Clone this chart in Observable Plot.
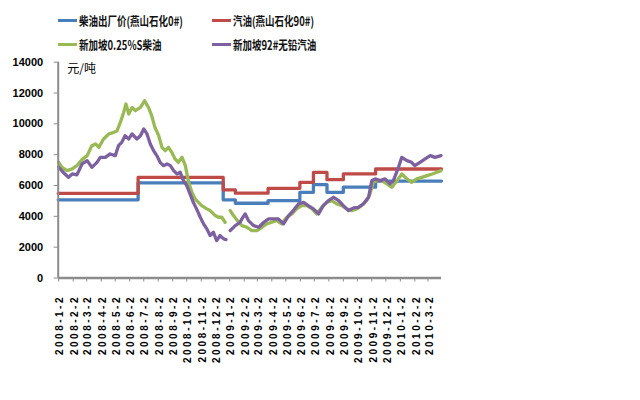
<!DOCTYPE html>
<html>
<head>
<meta charset="utf-8">
<script src="https://cdn.jsdelivr.net/npm/d3@7"></script>
<script src="https://cdn.jsdelivr.net/npm/@observablehq/plot@0.6"></script>
<style>
  body { margin: 0; background: #fff; }
  #legend { position: relative; width: 640px; height: 55px; font-family: "Noto Sans CJK SC", sans-serif; }
  .sw { position: absolute; width: 19px; height: 3px; }
  .lt { position: absolute; font-size: 12.5px; line-height: 13px; font-weight: bold; white-space: nowrap; transform: scaleX(0.76); transform-origin: 0 50%; color: #111; }
  #chart g[aria-label="x-axis tick label"] text { letter-spacing: 2.5px; }
  #chart g[aria-label="y-axis tick"], #chart g[aria-label="x-axis tick"] { stroke: #8c8c8c; }
</style>
</head>
<body>
<div id="legend"></div>
<div id="chart"></div>
<script>
// ---- series names & colours ----
const seriesNames = ["柴油出厂价(燕山石化0#)", "汽油(燕山石化90#)", "新加坡0.25%S柴油", "新加坡92#无铅汽油"];
const seriesColors = ["#4a7ebb", "#be4b48", "#98b954", "#7d60a0"];

// ---- axis ticks ----
const xTickLabels = ["2008-1-2","2008-2-2","2008-3-2","2008-4-2","2008-5-2","2008-6-2","2008-7-2","2008-8-2","2008-9-2","2008-10-2","2008-11-2","2008-12-2",
  "2009-1-2","2009-2-2","2009-3-2","2009-4-2","2009-5-2","2009-6-2","2009-7-2","2009-8-2","2009-9-2","2009-10-2","2009-11-2","2009-12-2",
  "2010-1-2","2010-2-2","2010-3-2"];
const yTicks = [0, 2000, 4000, 6000, 8000, 10000, 12000, 14000];
const xDomain = ["2008-01-01", "2010-03-31"];

// ---- 柴油出厂价 (step) ----
const dieselDates  = ["2008-01-01","2008-06-20","2008-12-19","2009-01-14","2009-03-25","2009-06-01","2009-06-30","2009-07-29","2009-09-02","2009-11-10","2010-03-31"];
const dieselValues = [5070, 6170, 5070, 4850, 5020, 5560, 6060, 5560, 5890, 6290, 6290];

// ---- 汽油出厂价 (step) ----
const gasDates  = ["2008-01-01","2008-06-20","2008-12-19","2009-01-14","2009-03-25","2009-06-01","2009-06-30","2009-07-29","2009-09-02","2009-11-10","2010-03-31"];
const gasValues = [5490, 6530, 5720, 5500, 5820, 6210, 6850, 6380, 6750, 7070, 7070];

// ---- 新加坡0.25%S柴油 ----
const sgDieselDates = ["2008-01-02","2008-01-09","2008-01-20","2008-01-31","2008-02-10","2008-02-21","2008-03-03","2008-03-13","2008-03-21","2008-03-28",
  "2008-04-07","2008-04-18","2008-04-29","2008-05-06","2008-05-13","2008-05-20","2008-05-25","2008-05-31","2008-06-07","2008-06-14",
  "2008-06-25","2008-07-04","2008-07-12","2008-07-19","2008-07-26","2008-08-03","2008-08-10","2008-08-17","2008-08-24","2008-08-31",
  "2008-09-07","2008-09-14","2008-09-22","2008-09-29","2008-10-06","2008-10-13","2008-10-20","2008-10-27","2008-11-03","2008-11-14",
  "2008-11-21","2008-12-02","2008-12-09","2008-12-16","2008-12-23","2008-12-28","2009-01-03","2009-01-10","2009-01-21","2009-01-28",
  "2009-02-08","2009-02-18","2009-03-01","2009-03-12","2009-03-22","2009-04-02","2009-04-13","2009-04-23","2009-05-04","2009-05-15",
  "2009-05-25","2009-06-05","2009-06-16","2009-06-27","2009-07-07","2009-07-18","2009-07-29","2009-08-08","2009-08-19","2009-08-30",
  "2009-09-09","2009-09-20","2009-10-01","2009-10-11","2009-10-22","2009-10-29","2009-11-05","2009-11-12","2009-11-23","2009-12-04",
  "2009-12-15","2009-12-26","2010-01-05","2010-01-16","2010-01-26","2010-02-06","2010-02-17","2010-02-28","2010-03-11","2010-03-21","2010-03-30"];
const sgDieselValues = [7505,7180,6966,7076,7290,7679,7938,8586,8696,8476,
  9020,9344,9448,9558,10096,10744,11288,10640,11068,10854,
  11068,11502,11068,10530,9772,9234,8476,8262,8476,8152,
  7724,7505,7828,7290,6208,5560,5132,4912,4698,4484,
  4374,4050,3940,3940,3616,null,4374,4050,3616,3402,
  3292,3078,3078,3292,3512,3616,3726,3512,3940,4160,
  4484,4698,4698,4484,4160,4588,4912,5022,4808,4698,
  4484,4374,4484,4698,5022,5456,6208,6318,6318,6104,
  5884,6318,6750,6428,6208,6428,6532,6642,6750,6858,6966];

// ---- 新加坡92#无铅汽油 ----
const sgGasDates = ["2008-01-02","2008-01-13","2008-01-23","2008-01-31","2008-02-10","2008-02-21","2008-03-03","2008-03-13","2008-03-24","2008-03-31",
  "2008-04-11","2008-04-21","2008-05-02","2008-05-09","2008-05-16","2008-05-23","2008-05-31","2008-06-07","2008-06-17","2008-06-25",
  "2008-07-02","2008-07-09","2008-07-16","2008-07-23","2008-07-30","2008-08-06","2008-08-13","2008-08-21","2008-08-28","2008-09-04",
  "2008-09-11","2008-09-18","2008-09-25","2008-10-02","2008-10-09","2008-10-16","2008-10-23","2008-10-31","2008-11-07","2008-11-14",
  "2008-11-21","2008-11-28","2008-12-05","2008-12-12","2008-12-20","2008-12-25","2008-12-29","2009-01-03","2009-01-14","2009-01-24",
  "2009-01-28","2009-02-04","2009-02-11","2009-02-22","2009-03-05","2009-03-16","2009-03-26","2009-04-06","2009-04-16","2009-04-27",
  "2009-05-08","2009-05-18","2009-05-29","2009-06-09","2009-06-19","2009-06-30","2009-07-11","2009-07-21","2009-08-01","2009-08-12",
  "2009-08-23","2009-09-02","2009-09-13","2009-09-24","2009-10-04","2009-10-15","2009-10-26","2009-11-02","2009-11-09","2009-11-20",
  "2009-11-30","2009-12-11","2009-12-18","2009-12-29","2010-01-05","2010-01-16","2010-01-26","2010-02-02","2010-02-13","2010-02-24",
  "2010-03-07","2010-03-17","2010-03-30"];
const sgGasValues = [7180,6815,6532,6750,6687,7400,7614,7180,7505,7828,
  7828,8048,7938,8586,8800,9234,9020,9344,9020,9234,
  9668,9344,8696,8262,7938,7505,7290,7400,7290,6966,
  6750,6858,6318,5994,5456,4912,4484,3940,3512,3188,
  2754,2968,2430,2754,2538,2495,null,3078,3402,3616,
  3836,4160,3726,3402,3292,3616,3836,3836,3836,3512,
  4050,4374,4808,4912,4698,4484,4160,4698,5022,5236,
  5022,4698,4374,4549,4588,4808,5236,6318,6428,6318,
  6428,6104,6318,7180,7828,7614,7505,7290,7505,7724,
  7938,7828,7938];

const parse = d3.utcParse("%Y-%m-%d");
const build = (dates, values) => dates.map((d, i) => ({date: parse(d), value: values[i]}));
const diesel = build(dieselDates, dieselValues);
const gas = build(gasDates, gasValues);
const sgDiesel = build(sgDieselDates, sgDieselValues);
const sgGas = build(sgGasDates, sgGasValues);
const xTicks = xTickLabels.map(parse);
const fmt = d3.utcFormat("%Y-%-m-%-d");

// ---- legend (HTML) ----
const legend = document.getElementById("legend");
const legendPos = [[58, 20], [212, 20], [58, 44], [212, 44]];
seriesNames.forEach((name, i) => {
  const [lx, ly] = legendPos[i];
  const sw = document.createElement("div");
  sw.className = "sw";
  sw.style.left = lx + "px"; sw.style.top = (ly - 1.5) + "px"; sw.style.background = seriesColors[i];
  legend.appendChild(sw);
  const t = document.createElement("div");
  t.className = "lt";
  t.style.left = (lx + 21) + "px"; t.style.top = (ly - 6.5) + "px";
  t.textContent = name;
  legend.appendChild(t);
});

const axisGray = "#8c8c8c";
const chart = Plot.plot({
  width: 640,
  height: 345,
  marginLeft: 57.7,
  marginRight: 199,
  marginTop: 6.7,
  marginBottom: 122.5,
  style: {fontFamily: "'Liberation Sans', Arial, sans-serif", background: "#fff", color: "#000"},
  x: {type: "utc", domain: xDomain.map(parse)},
  y: {domain: [0, 14000]},
  marks: [
    Plot.axisY({ticks: yTicks, tickSize: 4, tickPadding: 11, tickFormat: d => String(d), fontSize: 11, fontWeight: "bold", label: null}),
    Plot.axisX({ticks: xTicks, tickSize: 4, tickFormat: () => "", label: null}),
    Plot.axisX({ticks: xTicks, tickSize: 0, tickPadding: 17, tickRotate: -90, tickFormat: fmt, fontSize: 10, fontWeight: "bold", dx: 1.5, label: null}),
    Plot.line(diesel, {x: "date", y: "value", curve: "step-after", stroke: seriesColors[0], strokeWidth: 3.3}),
    Plot.line(gas, {x: "date", y: "value", curve: "step-after", stroke: seriesColors[1], strokeWidth: 3.3}),
    Plot.line(sgDiesel, {x: "date", y: "value", stroke: seriesColors[2], strokeWidth: 3.3, strokeLinejoin: "round"}),
    Plot.line(sgGas, {x: "date", y: "value", stroke: seriesColors[3], strokeWidth: 3.3, strokeLinejoin: "round"}),
    Plot.ruleX([parse(xDomain[0])], {stroke: axisGray, strokeWidth: 2}),
    Plot.ruleY([0], {stroke: axisGray, strokeWidth: 2.5}),
    Plot.text(["元/吨"], {frameAnchor: "top-left", text: d => d, dx: 9, dy: 2, fontSize: 12, fontFamily: "'Noto Sans CJK SC', sans-serif"})
  ]
});
document.getElementById("chart").appendChild(chart);
</script>
</body>
</html>
